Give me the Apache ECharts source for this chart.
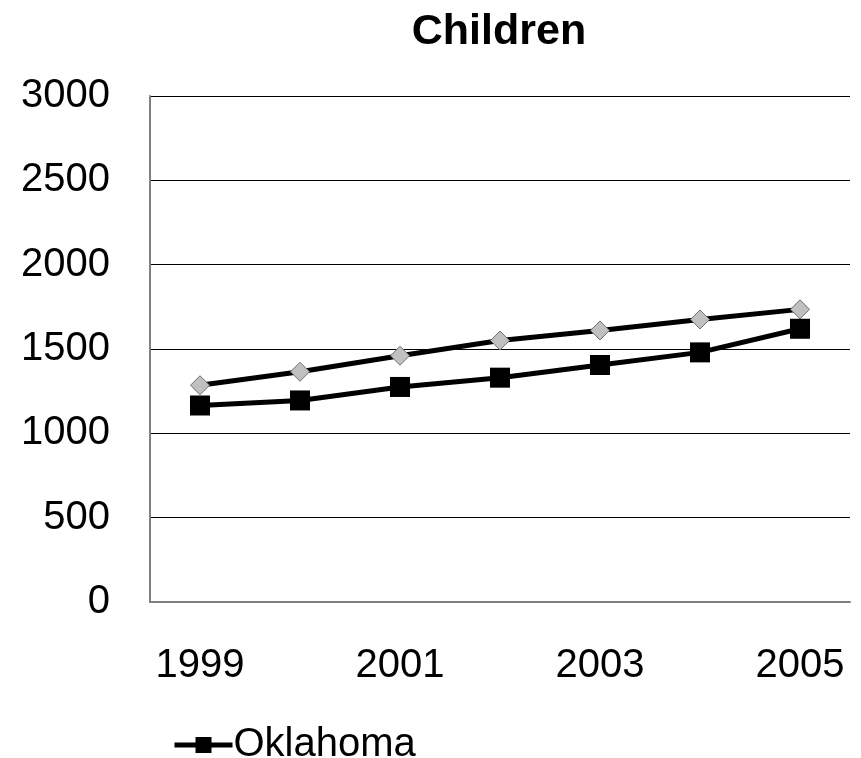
<!DOCTYPE html>
<html>
<head>
<meta charset="utf-8">
<script src="https://cdn.jsdelivr.net/npm/echarts@6/dist/echarts.min.js"></script>
<style>
html,body{margin:0;padding:0;background:#fff;}
#chart{width:861px;height:758px;}
</style>
</head>
<body>
<div id="chart"></div>
<script>
const titleText = 'Children';
const years = ['1999', '2000', '2001', '2002', '2003', '2004', '2005'];
const oklahoma = [1165, 1195, 1275, 1330, 1405, 1480, 1620];
const comparison = [1285, 1365, 1460, 1550, 1610, 1675, 1735];
const yTicks = [0, 500, 1000, 1500, 2000, 2500, 3000];

const font = 'Liberation Sans, Arial, sans-serif';
const chart = echarts.init(document.getElementById('chart'));
chart.setOption({
  animation: false,
  backgroundColor: '#fff',
  title: {
    text: titleText,
    left: 494,
    textAlign: 'center',
    top: 6,
    textStyle: { fontFamily: font, fontSize: 43, fontWeight: 'bold', color: '#000' }
  },
  legend: {
    data: ['Oklahoma'],
    left: 167,
    top: 720,
    itemWidth: 58,
    itemHeight: 20,
    itemGap: 4,
    lineStyle: { width: 5, color: '#000' },
    textStyle: { fontFamily: font, fontSize: 40, color: '#000', padding: [0,0,0,-4] }
  },
  grid: { left: 150, right: 11, top: 96, bottom: 156, containLabel: false },
  xAxis: {
    type: 'category',
    data: years,
    boundaryGap: true,
    axisLine: { lineStyle: { color: '#808080', width: 2 } },
    axisTick: { show: false },
    axisLabel: { interval: 1, margin: 44, fontFamily: font, fontSize: 40, color: '#000' },
    splitLine: { show: false }
  },
  yAxis: {
    type: 'value',
    min: yTicks[0],
    max: yTicks[yTicks.length - 1],
    interval: 500,
    axisLine: { show: true, lineStyle: { color: '#808080', width: 2 } },
    axisTick: { show: false },
    axisLabel: { margin: 40, fontFamily: font, fontSize: 40, color: '#000', formatter: v => String(v) },
    splitLine: { lineStyle: { color: '#000', width: 1.2 } }
  },
  series: [
    {
      name: 'United States',
      type: 'line',
      data: comparison,
      symbol: 'diamond',
      symbolSize: 19,
      lineStyle: { color: '#000', width: 5 },
      itemStyle: { color: '#c0c0c0', borderColor: '#707070', borderWidth: 1 },
      z: 2
    },
    {
      name: 'Oklahoma',
      type: 'line',
      data: oklahoma,
      symbol: 'rect',
      symbolSize: 20,
      lineStyle: { color: '#000', width: 5 },
      itemStyle: { color: '#000' },
      z: 3
    }
  ]
});
</script>
</body>
</html>
